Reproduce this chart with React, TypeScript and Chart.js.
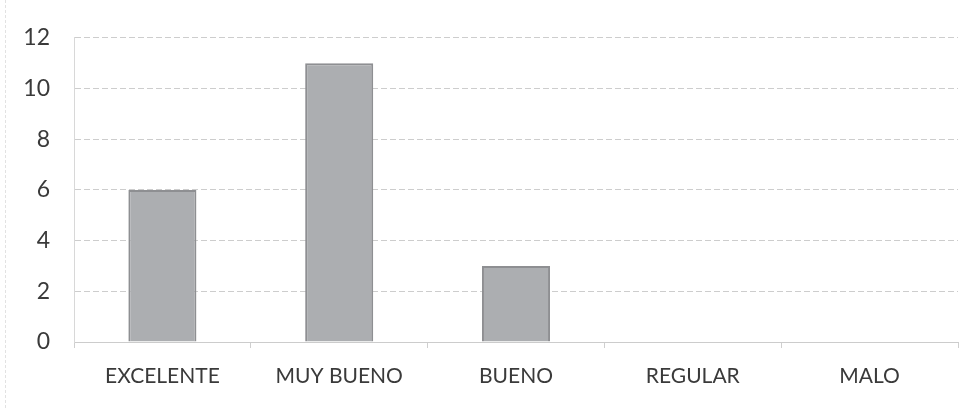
import React, { useEffect, useRef } from "react";
import { Chart, registerables } from "chart.js";

Chart.register(...registerables);

const categories = ["EXCELENTE", "MUY BUENO", "BUENO", "REGULAR", "MALO"];
const values = [6, 11, 3, 0, 0];
const yTicks = [0, 2, 4, 6, 8, 10, 12];

export default function App() {
  const ref = useRef<HTMLCanvasElement | null>(null);

  useEffect(() => {
    if (!ref.current) return;
    const chart = new Chart(ref.current, {
      type: "bar",
      data: {
        labels: categories,
        datasets: [
          {
            data: values,
            backgroundColor: "#acaeb1",
            borderColor: "#8e8f92",
            borderWidth: 2,
            barPercentage: 0.385,
            categoryPercentage: 1,
          },
        ],
      },
      options: {
        responsive: false,
        animation: false,
        layout: { padding: { top: 34, right: 19, left: 0, bottom: 0 } },
        plugins: { legend: { display: false }, tooltip: { enabled: false } },
        scales: {
          x: {
            grid: {
              drawOnChartArea: false,
              drawTicks: true,
              tickLength: 6,
              color: "#cfcfcf",
            },
            border: { display: true, color: "#cccccc", dash: [8, 3] },
            ticks: {
              color: "#3a3a3a",
              padding: 16,
              font: { family: "Lato, 'Open Sans', sans-serif", size: 21 },
              maxRotation: 0,
            },
            afterFit: (s: any) => {
              s.height = 66;
            },
          },
          y: {
            min: 0,
            max: 12,
            afterBuildTicks: (s: any) => {
              s.ticks = yTicks.map((v) => ({ value: v }));
            },
            grid: { color: "#cdcdcd", drawTicks: false } as any,
            border: { display: true, color: "#d8d8d8", dash: [6, 3] },
            ticks: {
              color: "#3a3a3a",
              padding: 24,
              font: { family: "Lato, 'Open Sans', sans-serif", size: 23 },
            },
            afterFit: (s: any) => {
              s.width = 74;
            },
          },
        },
      },
    });
    return () => chart.destroy();
  }, []);

  return (
    <div style={{ position: "absolute", left: 0, top: 0, width: 977, height: 408, background: "#fff" }}>
      <div
        style={{
          position: "absolute",
          left: 5,
          top: 0,
          height: 408,
          borderLeft: "1px dashed #e2e2e2",
        }}
      />
      <canvas ref={ref} width={977} height={408} style={{ position: "absolute", left: 0, top: 0 }} />
    </div>
  );
}
